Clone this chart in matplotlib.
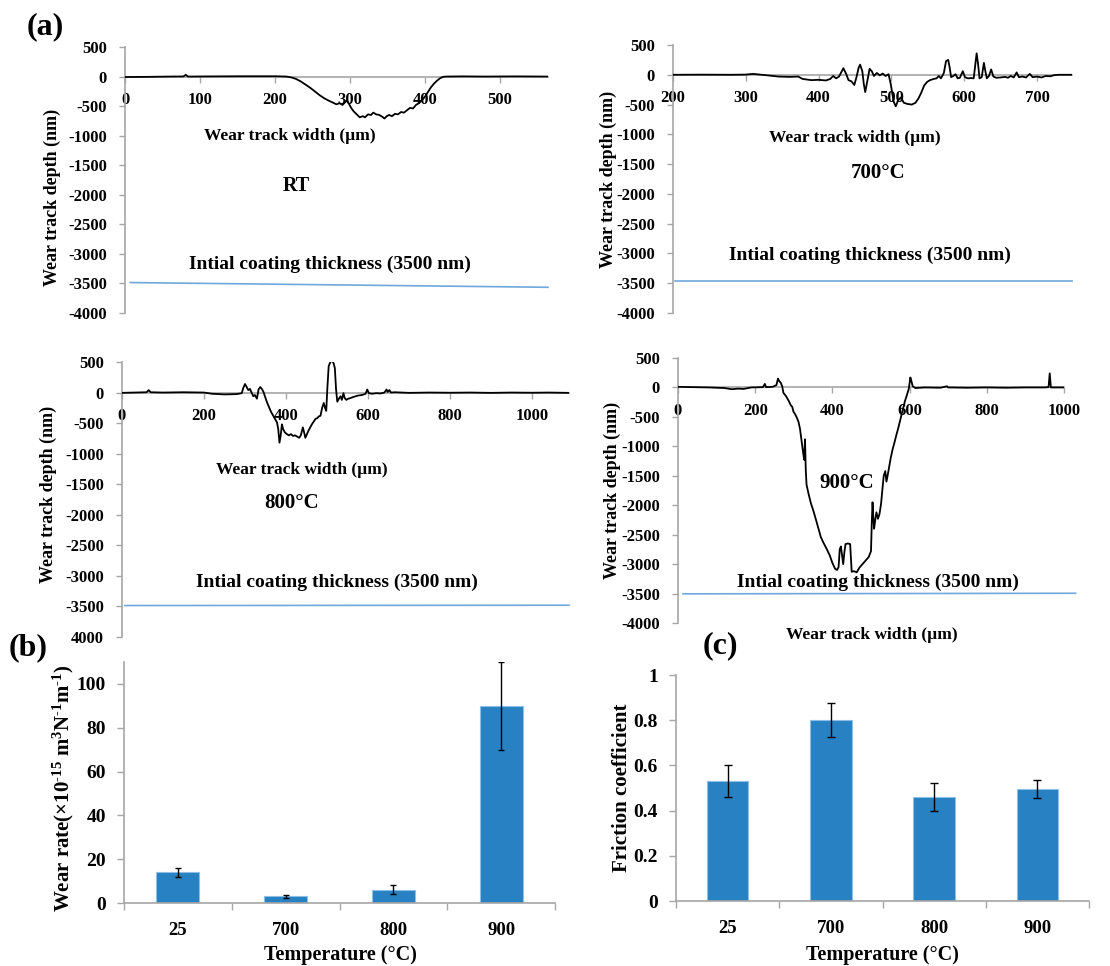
import matplotlib
matplotlib.use("Agg")
import matplotlib.pyplot as plt
import numpy as np

plt.rcParams["font.family"] = "Liberation Serif"
plt.rcParams["font.weight"] = "bold"
plt.rcParams["axes.unicode_minus"] = False
plt.rcParams["mathtext.fontset"] = "custom"
plt.rcParams["mathtext.rm"] = "Liberation Serif:bold"
plt.rcParams["mathtext.it"] = "Liberation Serif:bold:italic"
plt.rcParams["mathtext.bf"] = "Liberation Serif:bold"
plt.rcParams["mathtext.default"] = "rm"

# ---------------- data ----------------
# wear track profiles: (width um, depth nm)
rt_profile = [(0, -8), (30, -5), (60, 0), (78, 2), (81, 30), (84, 0), (120, 3), (160, 5), (200, 5),
              (215, 0), (222, -15), (228, -40), (234, -80), (240, -130), (247, -190), (254, -260),
              (260, -320), (266, -370), (272, -410), (277, -440), (282, -470), (286, -450), (290, -480),
              (293, -440), (296, -400), (299, -470), (302, -540), (305, -590), (309, -640), (313, -690),
              (317, -670), (320, -690), (324, -640), (328, -650), (331, -610), (335, -640), (339, -650),
              (343, -680), (346, -710), (349, -670), (352, -650), (356, -670), (360, -630), (364, -640),
              (368, -600), (372, -610), (376, -570), (380, -530), (384, -540), (388, -480), (392, -450),
              (396, -400), (400, -340), (404, -260), (408, -180), (412, -120), (416, -70), (420, -30),
              (424, -5), (428, 0), (450, 3), (480, 0), (520, 3), (564, 0)]

p700_profile = [(200, 0), (240, 2), (280, 0), (300, 3), (310, 15), (318, 5), (330, -10), (345, -30),
                (360, -35), (372, -30), (378, -70), (390, -90), (400, -85), (410, -95), (416, -70),
                (420, -20), (424, -60), (428, -30), (434, 110), (438, 10), (441, -90), (445, -110),
                (449, -170), (452, -40), (455, 120), (457, 170), (460, 60), (462, -150), (464, -290),
                (467, -100), (470, 100), (473, 60), (476, -20), (480, 30), (484, -10), (488, 20),
                (492, -20), (496, 10), (499, -150), (503, -450), (506, -530), (509, -430), (513, -380),
                (517, -470), (522, -490), (528, -500), (533, -470), (537, -400), (541, -300), (545, -180),
                (549, -120), (553, -90), (558, -70), (562, -60), (565, -20), (568, -60), (572, 30),
                (575, 230), (578, 250), (580, 120), (582, -40), (585, -20), (588, 10), (591, -60),
                (594, -50), (598, 60), (601, -40), (605, -60), (610, -55), (613, -60), (615, 150),
                (617, 360), (619, 180), (621, -60), (624, -40), (627, 200), (629, 60), (631, -60),
                (634, -20), (637, 90), (640, -30), (644, -50), (650, -45), (656, -35), (660, -50),
                (664, -20), (668, -45), (672, 40), (675, -40), (680, -30), (685, -45), (690, 15),
                (694, -40), (700, -30), (706, -45), (712, -20), (718, -25), (724, -5), (730, 0), (748, 0)]

p800_profile = [(0, -5), (30, 0), (60, 5), (65, 40), (70, 5), (100, 0), (150, 5), (200, 0), (220, -20),
                (250, -30), (280, -25), (292, -10), (296, 80), (300, 140), (304, 90), (308, 40), (312, 60),
                (316, 0), (320, -60), (324, -40), (329, -100), (333, 50), (337, 90), (341, 60), (345, 10),
                (349, -70), (353, -150), (358, -230), (363, -310), (368, -370), (373, -430), (378, -490),
                (381, -600), (384, -820), (387, -700), (390, -520), (393, -600), (397, -650), (402, -680),
                (407, -700), (412, -680), (417, -710), (422, -700), (427, -720), (432, -740), (436, -700),
                (441, -570), (444, -650), (447, -740), (451, -680), (455, -620), (459, -570), (463, -520),
                (468, -470), (472, -430), (476, -420), (480, -390), (484, -380), (488, -250), (492, -170),
                (495, -250), (498, -300), (501, 100), (504, 430), (508, 500), (512, 520), (516, 480),
                (519, 400), (522, 50), (525, -150), (529, -100), (533, -60), (536, -120), (540, -10),
                (543, -90), (547, -120), (552, -100), (557, -90), (565, -70), (575, -50), (585, -40),
                (594, -20), (598, 50), (602, -10), (610, -20), (620, -10), (630, -15), (640, 0), (645, 50),
                (648, 10), (652, 40), (656, 0), (665, 5), (700, -5), (750, 0), (800, -3), (850, 0),
                (900, -5), (950, 0), (1000, -3), (1040, 0), (1090, -5)]

p900_profile = [(0, 10), (40, 5), (80, 0), (120, -10), (140, -30), (155, -20), (170, -25), (190, 0),
                (220, 5), (225, 60), (228, 5), (245, 10), (255, 40), (259, 150), (262, 110), (266, 80),
                (270, 20), (273, -90), (280, -150), (287, -230), (292, -300), (296, -330), (299, -410),
                (303, -450), (307, -500), (312, -580), (316, -700), (320, -900), (324, -1100), (327, -1230),
                (329, -880), (331, -1400), (333, -1650), (338, -1800), (344, -1960), (351, -2100),
                (358, -2260), (364, -2400), (370, -2540), (377, -2640), (385, -2740), (393, -2850),
                (400, -2980), (407, -3080), (412, -3100), (416, -3050), (419, -2750), (422, -2700),
                (425, -2850), (428, -3000), (431, -2800), (434, -2660), (440, -2650), (446, -2660),
                (448, -2900), (450, -3130), (456, -3120), (463, -3140), (470, -3060), (478, -3000),
                (486, -2940), (494, -2880), (500, -2780), (502, -2300), (504, -1950), (506, -2200),
                (508, -2400), (511, -2250), (514, -2120), (518, -2230), (522, -2150), (526, -1980),
                (530, -1700), (533, -1500), (537, -1420), (540, -1600), (543, -1500), (547, -1350),
                (551, -1200), (556, -1050), (561, -930), (566, -800), (571, -680), (577, -520),
                (583, -360), (588, -230), (593, -130), (598, -20), (602, 170), (605, 100), (608, 20),
                (615, -10), (640, 0), (680, -5), (697, 20), (700, 0), (750, -5), (800, 0), (850, -5),
                (900, 0), (950, 0), (960, 5), (963, 240), (966, 0), (1000, 0)]

# initial coating thickness reference lines: (x start, x end), (y start, y end)
rt_coating = ([7, 564], [-3485, -3565])
p700_coating = ([203, 748], [-3470, -3470])
p800_coating = ([7, 1090], [-3485, -3480])
p900_coating = ([13, 1030], [-3505, -3495])

depth_ticks = [-4000, -3500, -3000, -2500, -2000, -1500, -1000, -500, 0, 500]
depth_labels = ["-4000", "-3500", "-3000", "-2500", "-2000", "-1500", "-1000", "-500", "0", "500"]
depth_labels_800 = ["4000", "-3500", "-3000", "-2500", "-2000", "-1500", "-1000", "-500", "0", "500"]

# bar charts
temperatures = ["25", "700", "800", "900"]
wear_rate = [14, 3, 6, 90]
wear_rate_err = [2, 0.6, 2, 20]
friction = [0.53, 0.80, 0.46, 0.495]
friction_err = [0.07, 0.075, 0.06, 0.04]

# ---------------- figure ----------------
W, H = 1110, 966
fig = plt.figure(figsize=(W / 100, H / 100), dpi=100)
GRAY = "#a6a6a6"
BLUE_LINE = "#6fa8dc"
BAR = "#2781c2"


def px_axes(left, top, right, bottom):
    return fig.add_axes([left / W, 1 - bottom / H, (right - left) / W, (bottom - top) / H])


def profile_panel(ax, profile, coating, xlim, xticks, ylabels):
    x, y = np.array(profile).T
    ax.plot(x, y, color="black", lw=1.3, zorder=3)
    ax.plot(coating[0], coating[1], color=BLUE_LINE, lw=1.2, zorder=3, clip_on=False)
    ax.set_xlim(*xlim)
    ax.set_ylim(-4000, 500)
    for s in ["top", "right"]:
        ax.spines[s].set_visible(False)
    ax.spines["bottom"].set_position(("data", 0))
    for s in ["left", "bottom"]:
        ax.spines[s].set_color(GRAY)
        ax.spines[s].set_linewidth(1.2)
    ax.set_xticks(xticks)
    ax.set_yticks(depth_ticks)
    ax.set_yticklabels(ylabels)
    ax.tick_params(axis="both", colors=GRAY, labelcolor="black", labelsize=12, length=4, width=1)
    ax.tick_params(axis="x", pad=7)
    ax.tick_params(axis="y", pad=9)
    ax.patch.set_alpha(0)


def bar_panel(ax, values, errors, ylim, yticks, yticklabels, capsize):
    pos = np.arange(len(temperatures))
    ax.bar(pos, values, width=0.4, color=BAR, edgecolor="#8dbfe6", linewidth=0.8,
           yerr=errors, capsize=capsize,
           error_kw=dict(elinewidth=1, capthick=1, ecolor="black"))
    ax.set_xlim(-0.5, len(temperatures) - 0.5)
    ax.set_ylim(*ylim)
    for s in ["top", "right"]:
        ax.spines[s].set_visible(False)
    for s in ["left", "bottom"]:
        ax.spines[s].set_color(GRAY)
        ax.spines[s].set_linewidth(1.2)
    ax.set_xticks(pos)
    ax.set_xticklabels(temperatures)
    ax.set_xticks(np.arange(-0.5, len(temperatures)), minor=True)
    ax.set_yticks(yticks)
    ax.set_yticklabels(yticklabels)
    ax.tick_params(axis="x", which="major", length=0, pad=14, labelsize=13.5)
    ax.tick_params(axis="x", which="minor", length=5, color=GRAY, width=1)
    ax.tick_params(axis="y", length=5, color=GRAY, width=1, pad=8, labelsize=14)


# (a) RT
ax1 = px_axes(125, 47, 548, 313)
profile_panel(ax1, rt_profile, rt_coating, (0, 564), [0, 100, 200, 300, 400, 500], depth_labels)
ax1.text(0.390, 0.665, "Wear track width (µm)", transform=ax1.transAxes, ha="center", va="center", fontsize=12.5)
ax1.text(0.404, 0.477, "RT", transform=ax1.transAxes, ha="center", va="center", fontsize=14.5)
ax1.text(0.485, 0.184, "Intial coating thickness (3500 nm)", transform=ax1.transAxes, ha="center", va="center", fontsize=14)

# 700 C
ax2 = px_axes(673, 45, 1072, 313)
profile_panel(ax2, p700_profile, p700_coating, (200, 748), [200, 300, 400, 500, 600, 700], depth_labels)
ax2.text(0.456, 0.653, "Wear track width (µm)", transform=ax2.transAxes, ha="center", va="center", fontsize=12.5)
ax2.text(0.514, 0.522, "700°C", transform=ax2.transAxes, ha="center", va="center", fontsize=15)
ax2.text(0.494, 0.216, "Intial coating thickness (3500 nm)", transform=ax2.transAxes, ha="center", va="center", fontsize=14)

# 800 C
ax3 = px_axes(122, 362, 569, 637)
profile_panel(ax3, p800_profile, p800_coating, (0, 1090), [0, 200, 400, 600, 800, 1000], depth_labels_800)
ax3.text(0.403, 0.607, "Wear track width (µm)", transform=ax3.transAxes, ha="center", va="center", fontsize=12.5)
ax3.text(0.380, 0.487, "800°C", transform=ax3.transAxes, ha="center", va="center", fontsize=15)
ax3.text(0.481, 0.200, "Intial coating thickness (3500 nm)", transform=ax3.transAxes, ha="center", va="center", fontsize=14)

# 900 C
ax4 = px_axes(678, 358, 1064, 623)
profile_panel(ax4, p900_profile, p900_coating, (0, 1000), [0, 200, 400, 600, 800, 1000], depth_labels)
ax4.text(0.438, 0.528, "900°C", transform=ax4.transAxes, ha="center", va="center", fontsize=15, zorder=4)
ax4.text(0.518, 0.155, "Intial coating thickness (3500 nm)", transform=ax4.transAxes, ha="center", va="center", fontsize=14)
ax4.text(0.503, -0.045, "Wear track width (µm)", transform=ax4.transAxes, ha="center", va="center", fontsize=12.5)

for xc, yc in [(52, 197), (608, 179), (48, 494), (612, 490)]:
    fig.text(xc / W, 1 - yc / H, "Wear track depth (nm)", rotation=90, ha="center", va="center", fontsize=13)

# (b) wear rate
ax5 = px_axes(124, 662, 555, 903)
bar_panel(ax5, wear_rate, wear_rate_err, (0, 110), [0, 20, 40, 60, 80, 100],
          ["0", "20", "40", "60", "80", "100"], 2.5)
fig.text(63 / W, 1 - 788 / H, r"Wear rate(×10$^{\text{-15}}$ m$^{3}$N$^{\text{-1}}$m$^{\text{-1}}$)", rotation=90,
         ha="center", va="center", fontsize=15)
fig.text(340 / W, 1 - 955 / H, "Temperature (°C)", ha="center", va="center", fontsize=14.5)

# (c) friction
ax6 = px_axes(676, 675, 1089, 901)
bar_panel(ax6, friction, friction_err, (0, 1), [0, 0.2, 0.4, 0.6, 0.8, 1.0],
          ["0", "0.2", "0.4", "0.6", "0.8", "1"], 3)
fig.text(622 / W, 1 - 788 / H, "Friction coefficient", rotation=90, ha="center", va="center", fontsize=15)
fig.text(882 / W, 1 - 955 / H, "Temperature (°C)", ha="center", va="center", fontsize=14.5)

# panel letters
fig.text(45 / W, 1 - 27 / H, "(a)", ha="center", va="center", fontsize=23)
fig.text(28 / W, 1 - 648 / H, "(b)", ha="center", va="center", fontsize=23)
fig.text(720 / W, 1 - 646 / H, "(c)", ha="center", va="center", fontsize=23)

fig.savefig("out.png", dpi=100)
